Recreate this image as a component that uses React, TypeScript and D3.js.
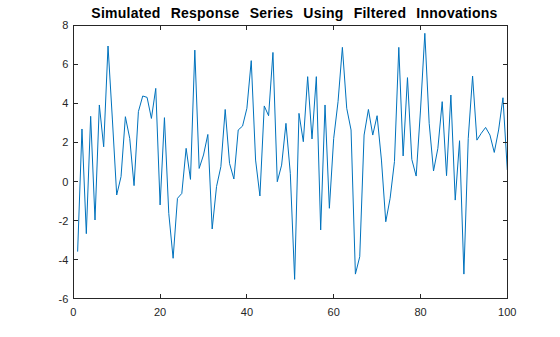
import React from "react";
import * as d3 from "d3";

const xValues: number[] = d3.range(1, 101);
const yValues: number[] = [
  -3.59, 2.69, -2.67, 3.34, -1.97, 3.92, 1.78, 6.94, 3.2, -0.69,
  0.25, 3.32, 2.21, -0.21, 3.58, 4.38, 4.31, 3.23, 4.77, -1.2,
  3.27, -1.63, -3.93, -0.86, -0.61, 1.7, 0.11, 6.73, 0.67, 1.36,
  2.41, -2.43, -0.26, 0.76, 3.69, 0.93, 0.13, 2.64, 2.84, 3.75,
  6.19, 1.1, -0.74, 3.87, 3.37, 6.61, -0.01, 0.84, 2.98, 0.42,
  -5.01, 3.49, 2.04, 5.37, 2.18, 5.37, -2.48, 3.92, -1.37, 2.21,
  4.09, 6.87, 3.75, 2.64, -4.74, -3.85, 2.38, 3.69, 2.38, 3.37,
  1.1, -2.06, -0.86, 1.02, 6.87, 1.31, 5.32, 1.13, 0.28, 3.66,
  7.59, 2.98, 0.54, 1.7, 4.09, 0.3, 4.43, -0.95, 2.09, -4.74,
  2.21, 5.4, 2.12, 2.47, 2.77, 2.38, 1.49, 2.64, 4.29, 0.59,
];
const xTicks: number[] = [0, 20, 40, 60, 80, 100];
const yTicks: number[] = [-6, -4, -2, 0, 2, 4, 6, 8];
const title = "Simulated Response Series Using Filtered Innovations";

const W = 560;
const H = 337;
const left = 73.3;
const right = 507.3;
const top = 25.3;
const bottom = 298.7;

export default function App() {
  const x = d3.scaleLinear().domain([0, 100]).range([left, right]);
  const y = d3.scaleLinear().domain([-6, 8]).range([bottom, top]);
  const line = d3
    .line<number>()
    .x((_, i) => x(xValues[i]))
    .y((d) => y(d));
  const tickLen = 4.5;
  const font = "'Liberation Sans', Arial, Helvetica, sans-serif";
  const axisColor = "#262626";
  return (
    <div style={{ position: "absolute", left: 0, top: 0, width: W, height: H, background: "#fff" }}>
      <svg width={W} height={H} style={{ display: "block" }}>
        <rect x={0} y={0} width={W} height={H} fill="#fff" />
        <rect x={left} y={top} width={right - left} height={bottom - top} fill="#fff" />
        <path d={line(yValues) || ""} fill="none" stroke="#0072BD" strokeWidth={1} strokeLinejoin="round" />
        <g stroke={axisColor} strokeWidth={1} fill="none" shapeRendering="crispEdges">
          <rect x={left} y={top} width={right - left} height={bottom - top} />
          {xTicks.map((t) => (
            <g key={"xt" + t}>
              <line x1={x(t)} x2={x(t)} y1={bottom} y2={bottom - tickLen} />
              <line x1={x(t)} x2={x(t)} y1={top} y2={top + tickLen} />
            </g>
          ))}
          {yTicks.map((t) => (
            <g key={"yt" + t}>
              <line x1={left} x2={left + tickLen} y1={y(t)} y2={y(t)} />
              <line x1={right} x2={right - tickLen} y1={y(t)} y2={y(t)} />
            </g>
          ))}
        </g>
        <g fill={axisColor} fontFamily={font} fontSize={11}>
          {xTicks.map((t) => (
            <text key={"xl" + t} x={x(t)} y={bottom + 17} textAnchor="middle">
              {t}
            </text>
          ))}
          {yTicks.map((t) => (
            <text key={"yl" + t} x={left - 5} y={y(t) + 4} textAnchor="end">
              {t}
            </text>
          ))}
        </g>
        <text
          x={294.5}
          y={17.5}
          textAnchor="middle"
          fontFamily={font}
          fontSize={14}
          fontWeight="bold"
          wordSpacing={6}
          letterSpacing={0.25}
          fill="#000"
        >
          {title}
        </text>
      </svg>
    </div>
  );
}
